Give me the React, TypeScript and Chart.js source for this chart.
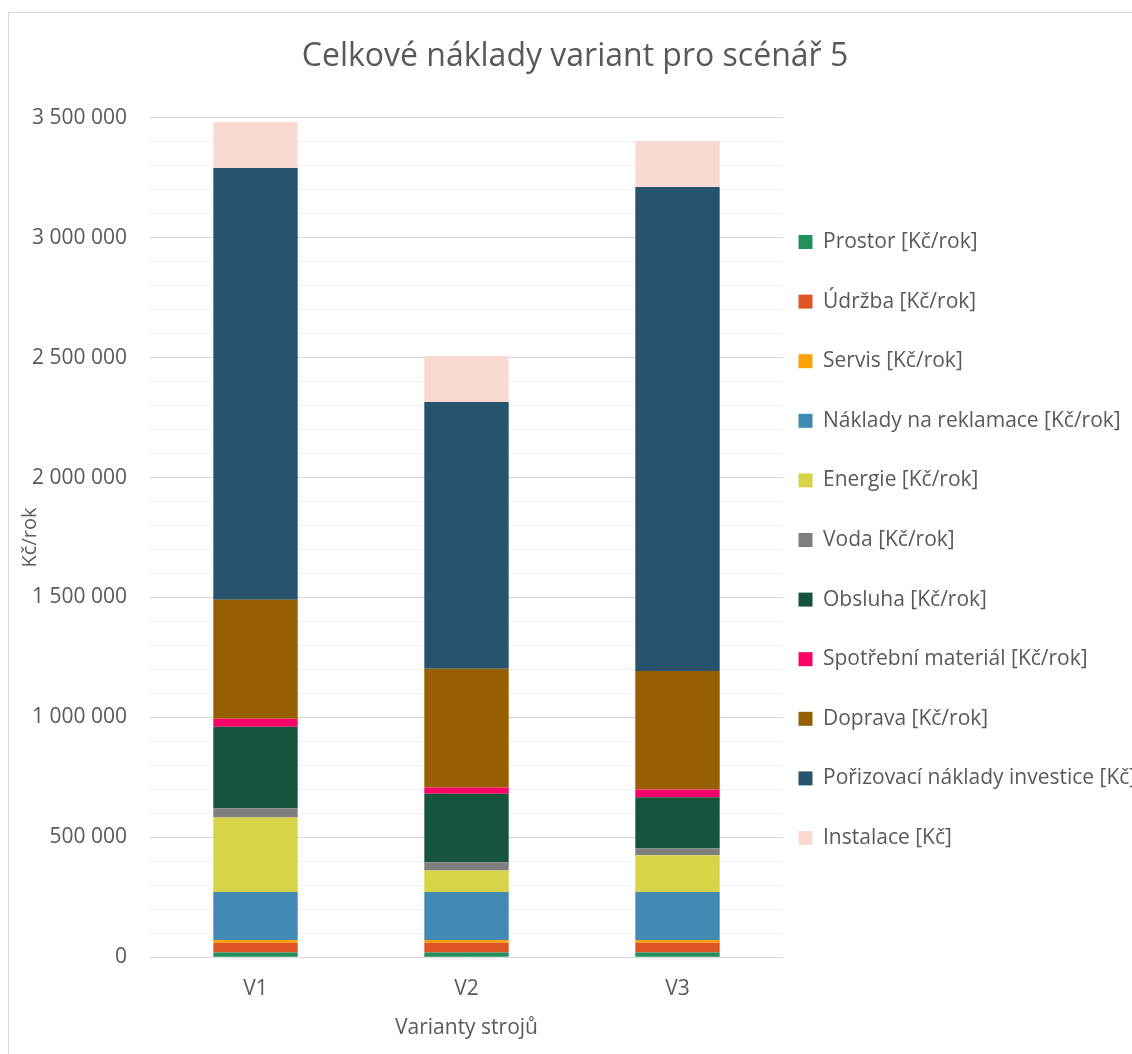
import React, { useEffect, useRef } from "react";
import { Chart, registerables } from "chart.js";

Chart.register(...registerables);

const categories = ["V1", "V2", "V3"];

const seriesNames = [
  "Prostor [Kč/rok]",
  "Údržba [Kč/rok]",
  "Servis [Kč/rok]",
  "Náklady na reklamace [Kč/rok]",
  "Energie [Kč/rok]",
  "Voda [Kč/rok]",
  "Obsluha [Kč/rok]",
  "Spotřební materiál [Kč/rok]",
  "Doprava [Kč/rok]",
  "Pořizovací náklady investice [Kč]",
  "Instalace [Kč]",
];

const prostor = [20000, 20000, 20000];
const udrzba = [41000, 41000, 41000];
const servis = [11000, 11000, 11000];
const reklamace = [200000, 200000, 200000];
const energie = [311000, 90000, 153000];
const voda = [38000, 34000, 29000];
const obsluha = [340000, 286000, 213000];
const spotrebni = [33000, 26000, 32000];
const doprava = [496000, 495000, 494000];
const porizovaci = [1800000, 1112000, 2018000];
const instalace = [192000, 192000, 192000];

const seriesValues = [
  prostor,
  udrzba,
  servis,
  reklamace,
  energie,
  voda,
  obsluha,
  spotrebni,
  doprava,
  porizovaci,
  instalace,
];

const seriesColors = [
  "#22905E",
  "#E05526",
  "#FF9F0A",
  "#418AB3",
  "#D7D447",
  "#7F7F7F",
  "#16553C",
  "#FF0066",
  "#985F00",
  "#27546C",
  "#F8DAD3",
];

const yTicksMax = 3500000;
const yMajorStep = 500000;
const yMinorStep = 100000;

const chartTitle = "Celkové náklady variant pro scénář 5";
const yTitle = "Kč/rok";
const xTitle = "Varianty strojů";

const TEXT = "#595959";
const FONT = "'Open Sans', 'DejaVu Sans', sans-serif";

function fmt(v: number): string {
  return String(Math.round(v)).replace(/\B(?=(\d{3})+(?!\d))/g, " ");
}

export default function App() {
  const ref = useRef<HTMLCanvasElement | null>(null);

  useEffect(() => {
    if (!ref.current) return;
    const defaultGen = (Chart as any).defaults.plugins.legend.labels.generateLabels;
    const chart = new Chart(ref.current, {
      type: "bar",
      data: {
        labels: categories,
        datasets: seriesNames.map((name, i) => ({
          label: name,
          data: seriesValues[i],
          backgroundColor: seriesColors[i],
          borderWidth: 0,
          categoryPercentage: 0.4,
          barPercentage: 1,
        })),
      },
      options: {
        responsive: false,
        animation: false,
        layout: { padding: { left: 12, right: 12, top: 0, bottom: 0 } },
        plugins: {
          title: {
            display: true,
            text: chartTitle,
            color: TEXT,
            font: { family: FONT, size: 32, weight: "normal" },
            padding: { top: 38, bottom: 41.3 },
          },
          legend: {
            position: "right",
            maxWidth: 355,
            title: {
              display: true,
              text: "",
              font: { size: 12 },
              padding: { top: 17.35, bottom: 17.35 },
            },
            labels: {
              boxWidth: 14,
              boxHeight: 14,
              padding: 15.5,
              color: TEXT,
              font: { family: FONT, size: 21, lineHeight: 2.1 },
              generateLabels: (c: any) =>
                defaultGen(c).map((it: any) => ({
                  ...it,
                  text: [it.text],
                  lineWidth: 0,
                  strokeStyle: "rgba(0,0,0,0)",
                })),
            },
          },
          tooltip: { enabled: false },
        },
        scales: {
          x: {
            stacked: true,
            grid: { display: false },
            border: { display: false },
            ticks: {
              color: TEXT,
              font: { family: FONT, size: 21 },
              padding: 11,
            },
            title: {
              display: true,
              text: xTitle,
              color: TEXT,
              font: { family: FONT, size: 21 },
              padding: { top: 0, bottom: 13 },
            },
            afterFit: (s: any) => {
              s.height = 96.7;
            },
          },
          y: {
            stacked: true,
            min: 0,
            max: yTicksMax,
            position: "left",
            grid: { color: "#D9D9D9", lineWidth: 1, drawTicks: false },
            border: { display: false },
            ticks: {
              stepSize: yMajorStep,
              color: TEXT,
              font: { family: FONT, size: 21 },
              padding: 23,
              callback: (v: any) => fmt(Number(v)),
            },
            title: {
              display: true,
              text: yTitle,
              color: TEXT,
              font: { family: FONT, size: 20 },
              padding: { top: 6.5, bottom: 0 },
            },
            afterFit: (s: any) => {
              s.width = 138;
            },
          },
          y2: {
            min: 0,
            max: yTicksMax,
            position: "left",
            grid: {
              drawTicks: false,
              color: (ctx: any) =>
                ctx.tick && ctx.tick.value % yMajorStep === 0 ? "rgba(0,0,0,0)" : "#F2F2F2",
            },
            border: { display: false },
            ticks: { stepSize: yMinorStep, display: false },
            afterFit: (s: any) => {
              s.width = 0;
            },
          },
        },
      } as any,
    });
    return () => chart.destroy();
  }, []);

  return (
    <>
      <div
        style={{
          position: "fixed",
          left: 8,
          top: 12,
          width: 1300,
          height: 1200,
          border: "1px solid #D9D9D9",
          background: "#FFFFFF",
        }}
      />
      <canvas
        ref={ref}
        width={1150}
        height={1054}
        style={{ position: "fixed", left: 0, top: 0, width: 1150, height: 1054, display: "block" }}
      />
    </>
  );
}
